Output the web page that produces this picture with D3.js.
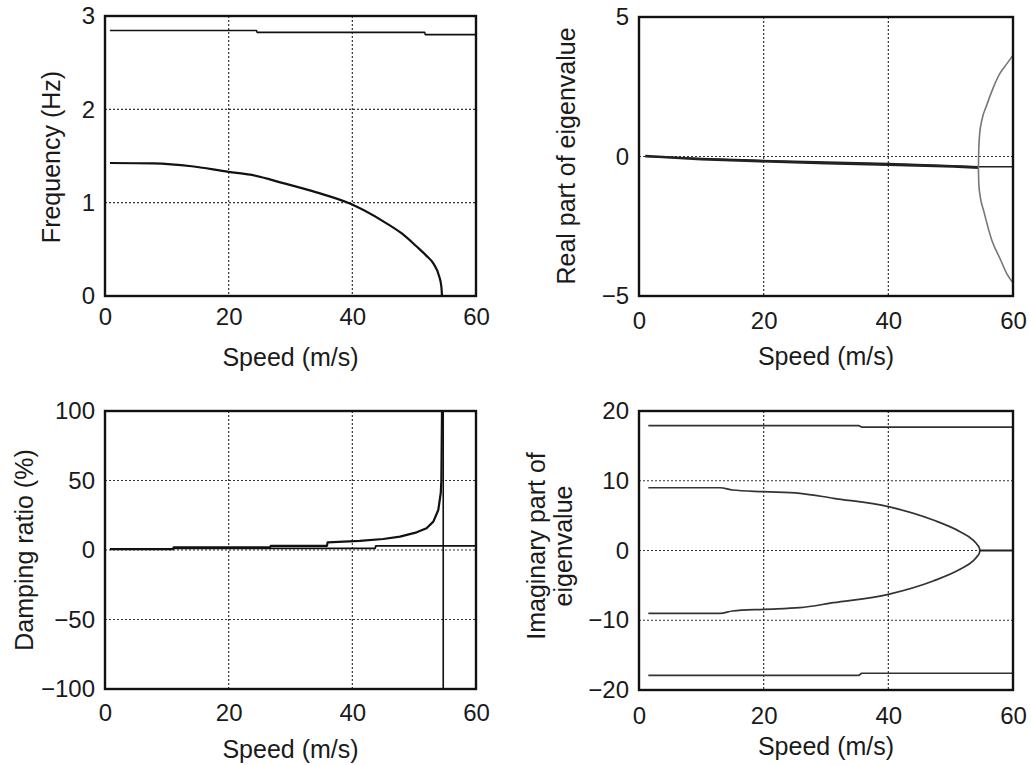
<!DOCTYPE html>
<html>
<head>
<meta charset="utf-8">
<script src="https://cdn.jsdelivr.net/npm/d3@7"></script>
<style>
  html, body { margin: 0; padding: 0; background: #fff; }
  svg { display: block; }
  text { font-family: "Liberation Sans", Arial, Helvetica, sans-serif; fill: #1a1a1a; }
</style>
</head>
<body>
<svg id="chart" width="1031" height="765"></svg>
<script>
// ---------------- DATA ----------------
const xTicks = [0, 20, 40, 60];
const freqTicks = [0, 1, 2, 3];
const realTicks = [-5, 0, 5];
const dampTicks = [-100, -50, 0, 50, 100];
const imagTicks = [-20, -10, 0, 10, 20];

// Frequency (Hz) vs speed
const freqMode2 = [[0.8, 2.845], [24.5, 2.845], [24.6, 2.825], [51.7, 2.825], [51.8, 2.80], [60, 2.80]];
const freqMode1 = [[0.8, 1.425], [7.8, 1.42], [14, 1.39], [20, 1.33], [23.5, 1.30], [28.8, 1.21], [34.2, 1.11],
  [39.6, 0.99], [45, 0.80], [48, 0.67], [50.4, 0.53], [52, 0.43], [53.1, 0.35], [54.0, 0.22], [54.4, 0.1], [54.5, 0.0]];
const freqMode1Zero = [[54.5, 0.0], [60, 0.0]];

// Real part of eigenvalue vs speed
const realMode2 = [[1, 0.0], [10, -0.07], [19.4, -0.14], [30, -0.2], [40, -0.25], [50.4, -0.33], [54.5, -0.37], [60, -0.37]];
const realMode1 = [[1, 0.02], [10, -0.1], [19.4, -0.17], [30, -0.24], [40, -0.29], [50.4, -0.36], [54.45, -0.4]];
const realBranchUp = [[54.45, -0.4], [54.5, 0.2], [54.65, 0.8], [55.0, 1.3], [55.8, 1.85], [56.8, 2.45], [57.9, 2.98], [59.0, 3.32], [59.9, 3.6]];
const realBranchDown = [[54.45, -0.4], [54.52, -1.0], [54.75, -1.45], [55.3, -1.95], [56.6, -3.0], [58.0, -3.7], [59.0, -4.2], [59.9, -4.5]];

// Damping ratio (%) vs speed
const dampMode2 = [[0.8, 0.7], [11, 0.7], [11.1, 1.2], [43.7, 1.2], [43.8, 3.0], [60, 3.0]];
const dampMode1 = [[0.8, 0.6], [11, 0.6], [11.1, 1.9], [26.7, 1.9], [26.8, 3.0], [35.9, 3.0], [36, 5.5], [41.2, 6.5],
  [45, 7.9], [47.7, 9.6], [50.4, 12.7], [52, 15.6], [53.1, 20.4], [53.9, 28.8], [54.3, 41], [54.4, 50], [54.5, 100], [54.7, 100]];
const dampDiverge = [[54.7, 100], [54.7, -100], [60, -100]];

// Imaginary part of eigenvalue vs speed
const imagMode2Up = [[1.5, 17.9], [35.3, 17.9], [35.7, 17.7], [60, 17.7]];
const imagMode2Down = [[1.5, -17.9], [35.3, -17.9], [35.7, -17.6], [60, -17.6]];
const imagMode1Up = [[1.5, 9.0], [13, 9.0], [15, 8.67], [20, 8.43], [25.8, 8.2], [31.2, 7.48], [40, 6.28],
  [47.2, 4.37], [51.5, 2.7], [53.6, 1.5], [54.3, 0.8], [54.6, 0.35], [54.7, 0.0]];
const imagMode1Down = [[1.5, -9.0], [13, -9.0], [15, -8.67], [20, -8.43], [25.8, -8.2], [31.2, -7.48], [40, -6.28],
  [47.2, -4.37], [51.5, -2.7], [53.6, -1.5], [54.3, -0.8], [54.6, -0.35], [54.7, 0.0]];
const imagMode1Zero = [[54.7, 0.0], [60, 0.0]];

// ---------------- DRAWING ----------------
const svg = d3.select("#chart");
const fmt = d => (d < 0 ? "\u2212" + Math.abs(d) : String(d));

const panels = [
  { box: [105, 476, 16, 296], y: [0, 3], yTicks: freqTicks, xPad: 12, label: ["Frequency (Hz)"], labelX: [60], labelY: 157, xLabelY: 366,
    series: [ { d: freqMode2, c: "#111", w: 1.6 }, { d: freqMode1, c: "#111", w: 2.2, smooth: true }, { d: freqMode1Zero, c: "#111", w: 2.2 } ] },
  { box: [639, 1013, 17, 296], y: [-5, 5], yTicks: realTicks, xPad: 16, label: ["Real part of eigenvalue"], labelX: [575], labelY: 156, xLabelY: 365,
    series: [ { d: realMode2, c: "#222", w: 1.6 }, { d: realMode1, c: "#222", w: 2.6 },
              { d: realBranchUp, c: "#777", w: 1.6, smooth: true }, { d: realBranchDown, c: "#777", w: 1.6, smooth: true } ] },
  { box: [105, 476, 411, 689], y: [-100, 100], yTicks: dampTicks, xPad: 15, label: ["Damping ratio (%)"], labelX: [33], labelY: 550, xLabelY: 758,
    series: [ { d: dampMode2, c: "#111", w: 1.8 }, { d: dampMode1, c: "#111", w: 2.2 }, { d: dampDiverge, c: "#111", w: 1.6 } ] },
  { box: [639, 1013, 411, 690], y: [-20, 20], yTicks: imagTicks, xPad: 17, label: ["Imaginary part of", "eigenvalue"], labelX: [545, 572], labelY: 546, xLabelY: 755,
    series: [ { d: imagMode2Up, c: "#333", w: 1.7 }, { d: imagMode2Down, c: "#333", w: 1.7 },
              { d: imagMode1Up, c: "#333", w: 1.7, smooth: true }, { d: imagMode1Down, c: "#333", w: 1.7, smooth: true },
              { d: imagMode1Zero, c: "#222", w: 1.9 } ] }
];

panels.forEach(p => {
  const [x0, x1, y0, y1] = p.box;
  const x = d3.scaleLinear().domain([0, 60]).range([x0, x1]);
  const y = d3.scaleLinear().domain(p.y).range([y1, y0]);
  const g = svg.append("g");

  // grid lines (dotted)
  const grid = g.append("g");
  grid.selectAll("line.gx").data(xTicks.slice(1, -1)).join("line")
    .attr("x1", d => x(d)).attr("x2", d => x(d)).attr("y1", y0).attr("y2", y1)
    .attr("stroke", "#333").attr("stroke-width", 1.2).attr("stroke-dasharray", "2,2");
  grid.selectAll("line.gy").data(p.yTicks.slice(1, -1)).join("line")
    .attr("x1", x0).attr("x2", x1).attr("y1", d => y(d)).attr("y2", d => y(d))
    .attr("stroke", "#333").attr("stroke-width", 1.2).attr("stroke-dasharray", "2,2");

  // data lines
  const lineLin = d3.line().x(d => x(d[0])).y(d => y(d[1]));
  const lineSm = d3.line().x(d => x(d[0])).y(d => y(d[1])).curve(d3.curveMonotoneX);
  p.series.forEach(s => {
    g.append("path").datum(s.d).attr("d", s.smooth ? lineSm : lineLin)
      .attr("fill", "none").attr("stroke", s.c).attr("stroke-width", s.w)
      .attr("stroke-linejoin", "round");
  });

  // frame
  g.append("rect").attr("x", x0).attr("y", y0).attr("width", x1 - x0).attr("height", y1 - y0)
    .attr("fill", "none").attr("stroke", "#111").attr("stroke-width", 2.4);

  // axes (labels only)
  const ax = g.append("g").attr("transform", `translate(0,${y1})`)
    .call(d3.axisBottom(x).tickValues(xTicks).tickSize(0).tickPadding(p.xPad).tickFormat(fmt));
  const ay = g.append("g").attr("transform", `translate(${x0},0)`)
    .call(d3.axisLeft(y).tickValues(p.yTicks).tickSize(0).tickPadding(10).tickFormat(fmt));
  [ax, ay].forEach(a => {
    a.select(".domain").remove();
    a.selectAll("text").attr("font-size", 24).attr("fill", "#1a1a1a")
      .style("font-family", '"Liberation Sans", Arial, sans-serif');
  });

  // axis titles
  g.append("text").attr("x", (x0 + x1) / 2).attr("y", p.xLabelY)
    .attr("text-anchor", "middle").attr("font-size", 25).text("Speed (m/s)");
  p.label.forEach((t, i) => {
    g.append("text").attr("transform", `translate(${p.labelX[i]},${p.labelY}) rotate(-90)`)
      .attr("text-anchor", "middle").attr("font-size", 25).text(t);
  });
});
</script>
</body>
</html>
